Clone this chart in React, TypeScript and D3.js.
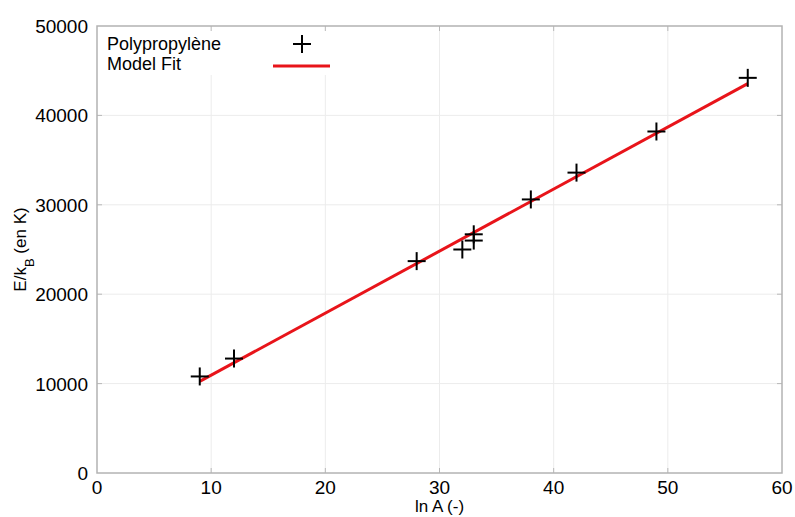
import React from "react";
import * as d3 from "d3";

const lnA = [9, 12, 28, 32, 33, 33, 38, 42, 49, 57];
const energy = [10800, 12800, 23700, 25000, 26000, 26700, 30600, 33600, 38200, 44200];
const fitX = [9, 57];
const fitY = [10250, 43550];
const xTicks = [0, 10, 20, 30, 40, 50, 60];
const yTicks = [0, 10000, 20000, 30000, 40000, 50000];
const seriesNames = ["Polypropylène", "Model Fit"];

const W = 795;
const H = 517;
const L = 97, R = 782, T = 26, B = 473;
const FONT = "'Liberation Sans', Arial, sans-serif";

export default function App() {
  const x = d3.scaleLinear().domain([0, 60]).range([L, R]);
  const y = d3.scaleLinear().domain([0, 50000]).range([B, T]);
  const line = d3.line<number>().x((d, i) => x(fitX[i])).y((d) => y(d));
  const plus = (cx: number, cy: number, s: number, key: any) => (
    <g key={key} stroke="#000" strokeWidth={2}>
      <line x1={cx - s} x2={cx + s} y1={cy} y2={cy} />
      <line x1={cx} x2={cx} y1={cy - s} y2={cy + s} />
    </g>
  );
  return (
    <svg width={W} height={H} style={{ position: "absolute", left: 0, top: 0, background: "#fff" }} fontFamily={FONT}>
      <rect x={0} y={0} width={W} height={H} fill="#fff" />
      {xTicks.slice(1, -1).map((t) => (
        <line key={"gx" + t} x1={x(t)} x2={x(t)} y1={T} y2={B} stroke="#ececec" strokeWidth={1} />
      ))}
      {yTicks.slice(1, -1).map((t) => (
        <line key={"gy" + t} x1={L} x2={R} y1={y(t)} y2={y(t)} stroke="#ececec" strokeWidth={1} />
      ))}
      {/* legend background */}
      <rect x={L + 1} y={T + 1} width={245} height={48} fill="#fff" />
      {xTicks.slice(1, -1).map((t) => (
        <g key={"tx" + t} stroke="#b8b8b8" strokeWidth={1}>
          <line x1={x(t)} x2={x(t)} y1={B} y2={B - 5} />
          <line x1={x(t)} x2={x(t)} y1={T} y2={T + 5} />
        </g>
      ))}
      {yTicks.slice(1, -1).map((t) => (
        <g key={"ty" + t} stroke="#b8b8b8" strokeWidth={1}>
          <line x1={L} x2={L + 5} y1={y(t)} y2={y(t)} />
          <line x1={R} x2={R - 5} y1={y(t)} y2={y(t)} />
        </g>
      ))}
      <rect x={L} y={T} width={R - L} height={B - T} fill="none" stroke="#b3b3b3" strokeWidth={1.5} />
      <path d={line(fitY) || ""} fill="none" stroke="#e8141a" strokeWidth={3} />
      {lnA.map((v, i) => plus(x(v), y(energy[i]), 9, "p" + i))}
      {xTicks.map((t) => (
        <text key={"lx" + t} x={x(t)} y={494} textAnchor="middle" fontSize={19} fill="#000">{t}</text>
      ))}
      {yTicks.map((t) => (
        <text key={"ly" + t} x={88} y={y(t) + 7} textAnchor="end" fontSize={19} fill="#000">{t}</text>
      ))}
      <text x={x(30)} y={512} textAnchor="middle" fontSize={17} fill="#000">ln A (-)</text>
      <text transform={`translate(26,${(T + B) / 2}) rotate(-90)`} textAnchor="middle" fontSize={17} fill="#000">
        E/k<tspan baselineShift="sub" fontSize={13}>B</tspan> (en K)
      </text>
      <text x={107} y={50} fontSize={18} fill="#000">{seriesNames[0]}</text>
      <text x={107} y={70} fontSize={18} fill="#000">{seriesNames[1]}</text>
      {plus(302, 44, 9, "leg")}
      <line x1={273} x2={330} y1={66} y2={66} stroke="#e8141a" strokeWidth={3} />
    </svg>
  );
}
